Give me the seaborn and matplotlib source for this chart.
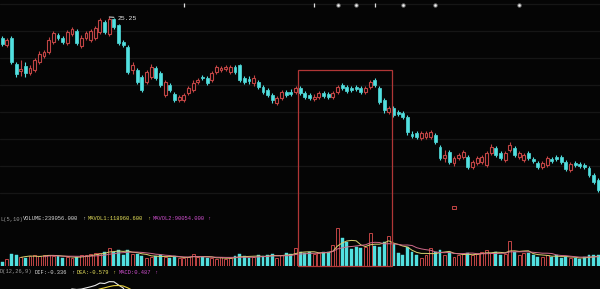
import numpy as np
import pandas as pd
import matplotlib
matplotlib.use("Agg")
import matplotlib.pyplot as plt
import seaborn as sns
from matplotlib.patches import Rectangle

# ---------------- data ----------------
opens = [24.20, 23.85, 24.20, 22.90, 22.55, 22.80, 22.45, 22.60, 23.00, 23.30,
         23.50, 24.00, 24.35, 24.20, 23.95, 24.40, 24.55, 23.80, 24.20, 24.10,
         24.20, 24.50, 25.00, 24.40, 25.15, 24.85, 24.00, 23.75, 22.60, 22.60,
         22.25, 22.00, 22.25, 22.70, 22.45, 21.35, 21.85, 21.40, 21.10, 21.10,
         21.45, 21.60, 22.00, 22.25, 22.20, 22.10, 22.50, 22.60, 22.65, 22.50,
         22.75, 22.85, 22.20, 22.15, 21.95, 22.00, 21.75, 21.60, 21.35, 20.95,
         21.20, 21.50, 21.50, 21.50, 21.70, 21.45, 21.35, 21.15, 21.25, 21.45,
         21.40, 21.25, 21.50, 21.85, 21.75, 21.70, 21.75, 21.70, 21.50, 21.75,
         22.10, 21.70, 21.10, 20.50, 20.70, 20.50, 20.45, 20.25, 19.40, 19.45,
         19.20, 19.25, 19.25, 19.35, 18.75, 18.20, 18.50, 17.95, 18.20, 18.25,
         18.25, 17.75, 17.95, 18.00, 17.85, 18.45, 18.70, 18.45, 18.10, 18.60,
         18.70, 18.25, 18.10, 18.45, 18.15, 17.95, 17.75, 17.85, 18.15, 18.25,
         18.25, 18.00, 17.60, 17.95, 17.90, 17.85, 17.70, 17.35, 17.10]
closes = [23.90, 24.10, 23.00, 22.40, 22.65, 22.45, 22.70, 23.10, 23.40, 23.50,
          24.10, 24.45, 24.20, 24.00, 24.50, 24.65, 23.95, 24.20, 24.45, 24.55,
          24.70, 25.10, 24.50, 25.15, 24.75, 23.95, 23.85, 22.50, 22.85, 22.00,
          21.60, 22.50, 22.75, 22.20, 21.85, 22.00, 21.60, 21.10, 21.25, 21.35,
          21.70, 21.95, 22.10, 22.20, 21.95, 22.45, 22.75, 22.70, 22.75, 22.75,
          22.50, 22.10, 22.00, 22.05, 22.20, 21.75, 21.50, 21.35, 21.10, 21.20,
          21.50, 21.35, 21.40, 21.70, 21.45, 21.25, 21.20, 21.25, 21.45, 21.30,
          21.25, 21.45, 21.75, 21.70, 21.55, 21.60, 21.65, 21.50, 21.70, 22.00,
          21.85, 21.00, 20.60, 20.70, 20.35, 20.40, 20.25, 19.50, 19.30, 19.25,
          19.45, 19.45, 19.50, 19.00, 18.20, 18.35, 18.00, 18.20, 18.35, 18.50,
          17.75, 18.00, 18.20, 18.25, 18.45, 18.75, 18.35, 18.20, 18.45, 18.85,
          18.35, 18.45, 18.35, 18.20, 18.05, 17.75, 17.95, 18.20, 18.05, 18.15,
          18.00, 17.65, 17.90, 17.85, 17.80, 17.75, 17.35, 17.00, 16.60]
highs = [24.30, 24.20, 24.30, 23.00, 23.10, 23.00, 22.85, 23.20, 23.55, 23.60,
         24.25, 24.55, 24.45, 24.30, 24.60, 24.75, 24.65, 24.35, 24.55, 24.65,
         24.80, 25.20, 25.10, 25.25, 25.20, 24.90, 24.10, 23.85, 23.00, 22.70,
         22.35, 22.60, 22.90, 22.80, 22.55, 22.10, 21.95, 21.50, 21.35, 21.45,
         21.80, 22.10, 22.20, 22.35, 22.30, 22.55, 22.85, 22.80, 22.85, 22.85,
         22.85, 22.90, 22.30, 22.30, 22.35, 22.10, 21.85, 21.70, 21.45, 21.30,
         21.60, 21.60, 21.65, 21.80, 21.80, 21.55, 21.45, 21.40, 21.55, 21.55,
         21.50, 21.55, 21.85, 21.95, 21.85, 21.80, 21.85, 21.80, 21.80, 22.10,
         22.20, 21.80, 21.20, 20.80, 20.80, 20.60, 20.55, 20.35, 19.55, 19.55,
         19.55, 19.55, 19.60, 19.45, 18.85, 18.60, 18.60, 18.30, 18.45, 18.60,
         18.35, 18.10, 18.30, 18.35, 18.55, 18.90, 18.80, 18.55, 18.55, 19.00,
         18.80, 18.55, 18.45, 18.55, 18.25, 18.05, 18.05, 18.30, 18.25, 18.35,
         18.35, 18.10, 18.00, 18.05, 18.00, 17.95, 17.80, 17.45, 17.20]
lows = [23.80, 23.75, 22.90, 22.25, 22.30, 22.25, 22.35, 22.50, 22.90, 23.20,
        23.40, 23.90, 24.10, 23.90, 23.85, 24.30, 23.85, 23.70, 24.10, 24.00,
        24.10, 24.40, 24.40, 24.30, 24.65, 23.85, 23.75, 22.40, 22.40, 21.90,
        21.50, 21.90, 22.15, 22.10, 21.75, 21.25, 21.50, 21.00, 21.00, 21.00,
        21.35, 21.50, 21.90, 22.10, 21.85, 22.00, 22.40, 22.50, 22.55, 22.40,
        22.40, 22.00, 21.90, 21.90, 21.80, 21.65, 21.40, 21.25, 20.95, 20.85,
        21.10, 21.25, 21.30, 21.40, 21.35, 21.15, 21.10, 21.05, 21.15, 21.20,
        21.15, 21.15, 21.40, 21.60, 21.45, 21.50, 21.55, 21.40, 21.40, 21.65,
        21.75, 20.90, 20.45, 20.40, 20.25, 20.30, 20.15, 19.35, 19.20, 19.15,
        19.10, 19.15, 19.15, 18.90, 18.10, 18.00, 17.90, 17.80, 18.10, 18.15,
        17.65, 17.65, 17.85, 17.90, 17.75, 18.35, 18.25, 18.10, 18.00, 18.50,
        18.25, 18.15, 18.00, 18.10, 17.95, 17.65, 17.65, 17.75, 17.95, 18.05,
        17.90, 17.55, 17.50, 17.75, 17.70, 17.65, 17.25, 16.90, 16.50]
volumes_k = [32, 56, 96, 88, 72, 64, 80, 88, 80, 88,
             88, 80, 80, 64, 72, 64, 72, 88, 88, 96,
             104, 104, 112, 144, 112, 128, 88, 128, 96, 96,
             80, 64, 72, 80, 88, 72, 64, 80, 64, 64,
             72, 96, 72, 72, 64, 64, 56, 72, 56, 64,
             80, 96, 80, 64, 72, 88, 80, 88, 96, 64,
             88, 104, 96, 144, 112, 104, 112, 96, 104, 112,
             112, 168, 304, 224, 192, 136, 152, 144, 152, 264,
             160, 152, 192, 240, 176, 104, 88, 152, 112, 88,
             64, 88, 144, 112, 128, 88, 112, 72, 88, 96,
             104, 88, 96, 112, 128, 104, 112, 88, 96, 200,
             112, 88, 104, 104, 88, 72, 72, 88, 72, 88,
             64, 72, 64, 64, 56, 72, 88, 88, 88]

high_label = "25.25"
event_idx = [39, 67, 72, 76, 80, 86, 93, 111]
event_kind = ["bar", "bar", "dot", "dot", "bar", "dot", "dot", "dot"]
box_first, box_last, box_top = 64, 83, 22.60

vol_texts = [("L(5,10)", "#9a9a9a"), ("VOLUME:239056.000", "#d8d8d8"), ("\u2191", "#d8d8d8"),
             ("MAVOL1:118960.600", "#e6e05a"), ("\u2191", "#e6e05a"),
             ("MAVOL2:90054.000", "#d050d0"), ("\u2191", "#d050d0")]
macd_texts = [("D(12,26,9)", "#9a9a9a"), ("DIF:-0.336", "#d8d8d8"), ("\u2191", "#d8d8d8"),
              ("DEA:-0.579", "#e6e05a"), ("\u2191", "#e6e05a"),
              ("MACD:0.487", "#d050d0"), ("\u2191", "#d050d0")]
vol_text_x = [0, 23, 82, 88, 147, 153, 207]
macd_text_x = [0, 35, 71, 77, 112, 119, 154]

# ---------------- styling ----------------
BG = "#050505"
CYAN = "#52e0e0"
RED = "#c04444"
GRID = "#161616"
BOXC = "#b03636"

sns.set_theme(style="dark", rc={"axes.facecolor": BG, "figure.facecolor": BG})
plt.rcParams["font.family"] = ["Liberation Mono", "DejaVu Sans Mono", "DejaVu Sans"]

df = pd.DataFrame({"i": np.arange(len(closes)), "open": opens, "close": closes,
                   "high": highs, "low": lows, "vol": volumes_k})
df["up"] = df["close"] >= df["open"]
df["top"] = df[["open", "close"]].max(axis=1)
df["bot"] = df[["open", "close"]].min(axis=1)
df["ma5"] = df["vol"].rolling(5).mean()
df["ma10"] = df["vol"].rolling(10).mean()
ema12 = df["close"].ewm(span=12, adjust=False).mean()
ema26 = df["close"].ewm(span=26, adjust=False).mean()
df["dif"] = ema12 - ema26
df["dea"] = df["dif"].ewm(span=9, adjust=False).mean()

W, H = 600, 289
fig = plt.figure(figsize=(W / 100, H / 100), dpi=100)
ax = fig.add_axes([0, 1 - 210 / H, 1, 210 / H])
axv = fig.add_axes([0, 1 - 266 / H, 1, 44 / H])
axm = fig.add_axes([0, 0, 1, 14 / H])

xlim = (-0.45, 128.35)
bw = 0.62

up = df[df["up"]]
dn = df[~df["up"]]

# wicks
for sub, col in ((up, RED), (dn, CYAN)):
    ax.vlines(sub["i"], sub["top"], sub["high"], colors=col, lw=0.8)
    ax.vlines(sub["i"], sub["low"], sub["bot"], colors=col, lw=0.8)
# bodies
ax.bar(dn["i"], dn["top"] - dn["bot"], bottom=dn["bot"], width=bw,
       color=CYAN, edgecolor=CYAN, lw=0.5)
ax.bar(up["i"], up["top"] - up["bot"], bottom=up["bot"], width=bw,
       facecolor=BG, edgecolor=RED, lw=0.8)

ax.set_xlim(*xlim)
ax.set_ylim(15.60, 26.10)
ax.set_yticks([25.90, 24.55, 23.20, 21.85, 20.50, 19.15, 17.80, 16.45])
ax.grid(axis="y", color=GRID, lw=0.9)
ax.grid(axis="x", visible=False)
ax.set_xticks([])
ax.tick_params(left=False, labelleft=False)
for s in ax.spines.values():
    s.set_visible(False)

# high label
hi_i = int(np.argmax(highs))
ax.annotate(high_label, xy=(hi_i, highs[hi_i]), xytext=(8, -1), textcoords="offset pixels",
            color="#e8e8e8", fontsize=4.6, va="center", ha="left",
            arrowprops=dict(arrowstyle="-", color="#e8e8e8", lw=0.7, shrinkA=0, shrinkB=0))

# event markers along the top
ev_y = 25.85
for i, k in zip(event_idx, event_kind):
    if k == "dot":
        ax.scatter([i], [ev_y], s=10, color="#777777", lw=0, zorder=3)
        ax.scatter([i], [ev_y], s=3, color="#f0f0f0", lw=0, zorder=4)
    else:
        ax.scatter([i], [ev_y], s=9, marker="|", color="#e0e0e0", lw=0.9, zorder=4)
ax.scatter([97], [15.72], s=6, marker="s", facecolor="none", edgecolor=RED, lw=0.7)

# volume panel
axv.bar(dn["i"], dn["vol"], width=bw, color=CYAN, edgecolor=CYAN, lw=0.3)
axv.bar(up["i"], up["vol"], width=bw, facecolor=BG, edgecolor=RED, lw=0.7)
sns.lineplot(x=df["i"], y=df["ma5"], ax=axv, color="#d8d070", lw=0.7)
sns.lineplot(x=df["i"], y=df["ma10"], ax=axv, color="#d06a8a", lw=0.7)
axv.set_xlim(*xlim)
axv.set_ylim(0, 352)
axv.axis("off")

# macd panel
sns.lineplot(x=df["i"], y=df["dif"], ax=axm, color="#e8e8e8", lw=0.8)
sns.lineplot(x=df["i"], y=df["dea"], ax=axm, color="#e6d040", lw=0.8)
dmax = df["dif"].max()
axm.set_xlim(*xlim)
axm.set_ylim(dmax * 0.5, dmax * 1.45)
axm.axis("off")

# box around the consolidation range (from data positions)
fig.canvas.draw()
inv = fig.transFigure.inverted()
fx0, fy1 = inv.transform(ax.transData.transform((box_first - 0.5, box_top)))
fx1, fy0 = inv.transform(axv.transData.transform((box_last + 0.6, 0)))
fig.patches.append(Rectangle((fx0, fy0), fx1 - fx0, fy1 - fy0, transform=fig.transFigure,
                             fill=False, ec=BOXC, lw=0.9))

# indicator captions
for (t, c), x in zip(vol_texts, vol_text_x):
    fig.text(x / W, 1 - 219 / H, t, color=c, fontsize=3.9, va="center", ha="left")
for (t, c), x in zip(macd_texts, macd_text_x):
    fig.text(x / W, 1 - 272 / H, t, color=c, fontsize=3.9, va="center", ha="left")

fig.savefig("out.png", dpi=100, facecolor=BG)
